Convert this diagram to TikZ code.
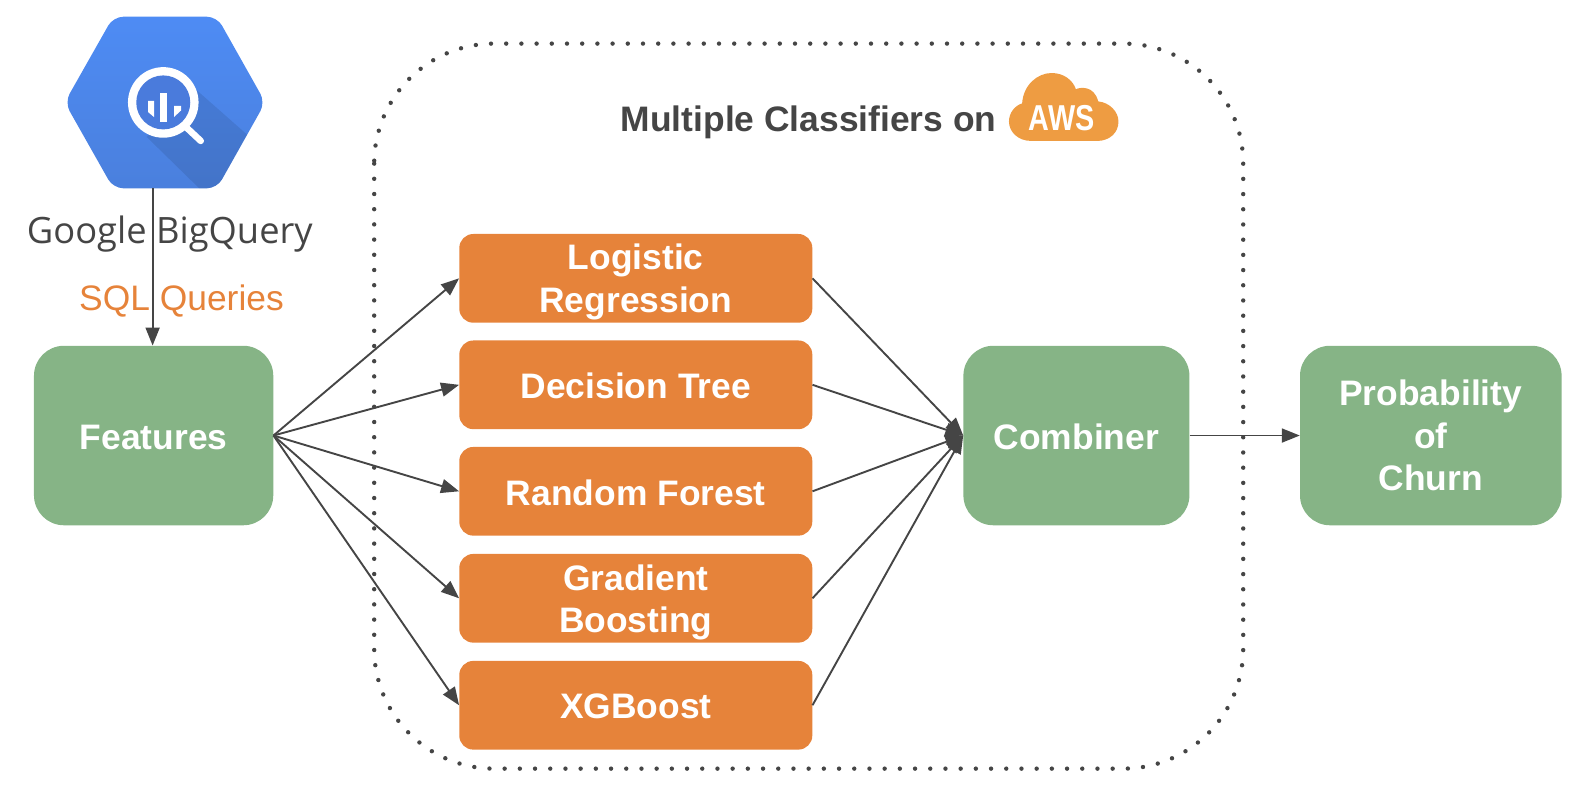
\documentclass[tikz,border=0pt]{standalone}
\usepackage{fontspec}
\setmainfont{Liberation Sans}
\newfontfamily\gfont{Open Sans}
\usetikzlibrary{arrows.meta}
\definecolor{grn}{HTML}{86B486}
\definecolor{org}{HTML}{E6833A}
\definecolor{ink}{HTML}{454545}
\definecolor{awsc}{HTML}{EE9C42}
\definecolor{hextop}{HTML}{4E8CF5}
\definecolor{hexbot}{HTML}{4A7FDC}
\definecolor{lensc}{HTML}{4A7BDC}
\newcommand\dnshift[2]{\raisebox{-#1}[\height][\depth]{#2}}
\newcommand\stacked[1]{\begin{tabular}{@{}c@{}}#1\end{tabular}}
\tikzset{
  lbl/.style={text=white,font=\fontsize{35.4}{42.6}\selectfont\bfseries,align=center,inner sep=0pt},
  greenbox/.style={lbl,fill=grn,rounded corners=30pt,minimum height=179.5pt},
  orangebox/.style={lbl,fill=org,rounded corners=14pt,minimum width=353pt,minimum height=88.7pt},
  conn/.style={draw=ink,line width=1.9pt,-{Triangle[length=18pt,width=14pt]}},
}
\begin{document}
\begin{tikzpicture}[x=1.01403pt,y=-1.01403pt]
\useasboundingbox (0,0) rectangle (1568,783);
% dotted frame
\draw[ink,line width=4.4pt,line cap=round,dash pattern=on 0pt off 15.2pt,rounded corners=120pt] (369,43) rectangle (1226,758);
% hexagon
\begin{scope}
\clip[rounded corners=10pt] (63.8,101) -- (111.7,16.5) -- (214,16.5) -- (261.6,101) -- (214,185.7) -- (111.7,185.7) -- cycle;
\shade[top color=hextop,bottom color=hexbot] (60,10) rectangle (270,195);
\fill[black,fill opacity=.09] (194,89) -- (270,156) -- (270,195) -- (206,195) -- (144.6,135) -- cycle;
\end{scope}
\coordinate (bqb) at (150.5,185.7);
\fill[white] (161,101) circle (35.3pt);
\fill[lensc] (161,101) circle (27pt);
\draw[white,line width=6.5pt,line cap=round] (182,124) -- (198,139);
\fill[white] (146,99.5) -- (152,99.5) -- (152,115.5) -- (146,110.5) -- cycle;
\fill[white] (158,91.7) rectangle (164.7,120.3);
\fill[white] (171.6,104.5) -- (178.5,104.5) -- (178.5,109) -- (171.6,115.4) -- cycle;
\node[inner sep=0pt,text=ink,font=\gfont\fontsize{36.3}{36.3}\selectfont] (gbq) at (167.5,230.5) {Google BigQuery};
\node[inner sep=0pt,text=org,font=\fontsize{35.4}{35.4}\selectfont] (sql) at (179,297) {SQL Queries};
% title
\node[inner sep=0pt,text=ink,font=\fontsize{35.4}{35.4}\selectfont\bfseries,anchor=west] (title) at (612,121) {Multiple Classifiers on};
% AWS cloud
\fill[awsc] (1017,139)
  .. controls (1004,139) and (995,130) .. (995,120)
  .. controls (995,111) and (1001,104) .. (1008,102)
  .. controls (1009,84) and (1023,72) .. (1037,72)
  .. controls (1049,72) and (1058,79) .. (1061,88)
  .. controls (1065,86) and (1079,84) .. (1083,100)
  .. controls (1094,101) and (1103,110) .. (1103,120)
  .. controls (1103,131) and (1094,139) .. (1082,139) -- cycle;
\node[inner sep=0pt,text=white,font=\fontsize{36}{36}\selectfont\bfseries,xscale=.8] (aws) at (1047,116) {AWS};
% boxes
\node[greenbox,minimum width=239.3pt] (features) at (151.5,429.5) {\dnshift{1.5pt}{Features}};
\node[greenbox,minimum width=226pt] (combiner) at (1061.5,429.5) {\dnshift{1pt}{Combiner}};
\node[greenbox,minimum width=261.6pt] (prob) at (1411,429.5) {\dnshift{4pt}{\stacked{Probability\\of\\Churn}}};
\node[orangebox] (lr) at (627,274.5) {\dnshift{4pt}{\stacked{Logistic\\Regression}}};
\node[orangebox] (dt) at (627,379.5) {\dnshift{1pt}{Decision Tree}};
\node[orangebox] (rf) at (627,484.5) {\dnshift{2pt}{Random Forest}};
\node[orangebox] (gb) at (627,590) {\dnshift{4.5pt}{\stacked{Gradient\\Boosting}}};
\node[orangebox] (xg) at (627,695.5) {\dnshift{1pt}{XGBoost}};
% connectors
\draw[conn] (bqb) -- (bqb |- features.north);
\foreach \n in {lr,dt,rf,gb,xg}{
  \draw[conn] (features.east) -- (\n.west);
  \draw[conn] (\n.east) -- (combiner.west);
}
\draw[conn] (combiner.east) -- (prob.west);
\end{tikzpicture}
\end{document}
